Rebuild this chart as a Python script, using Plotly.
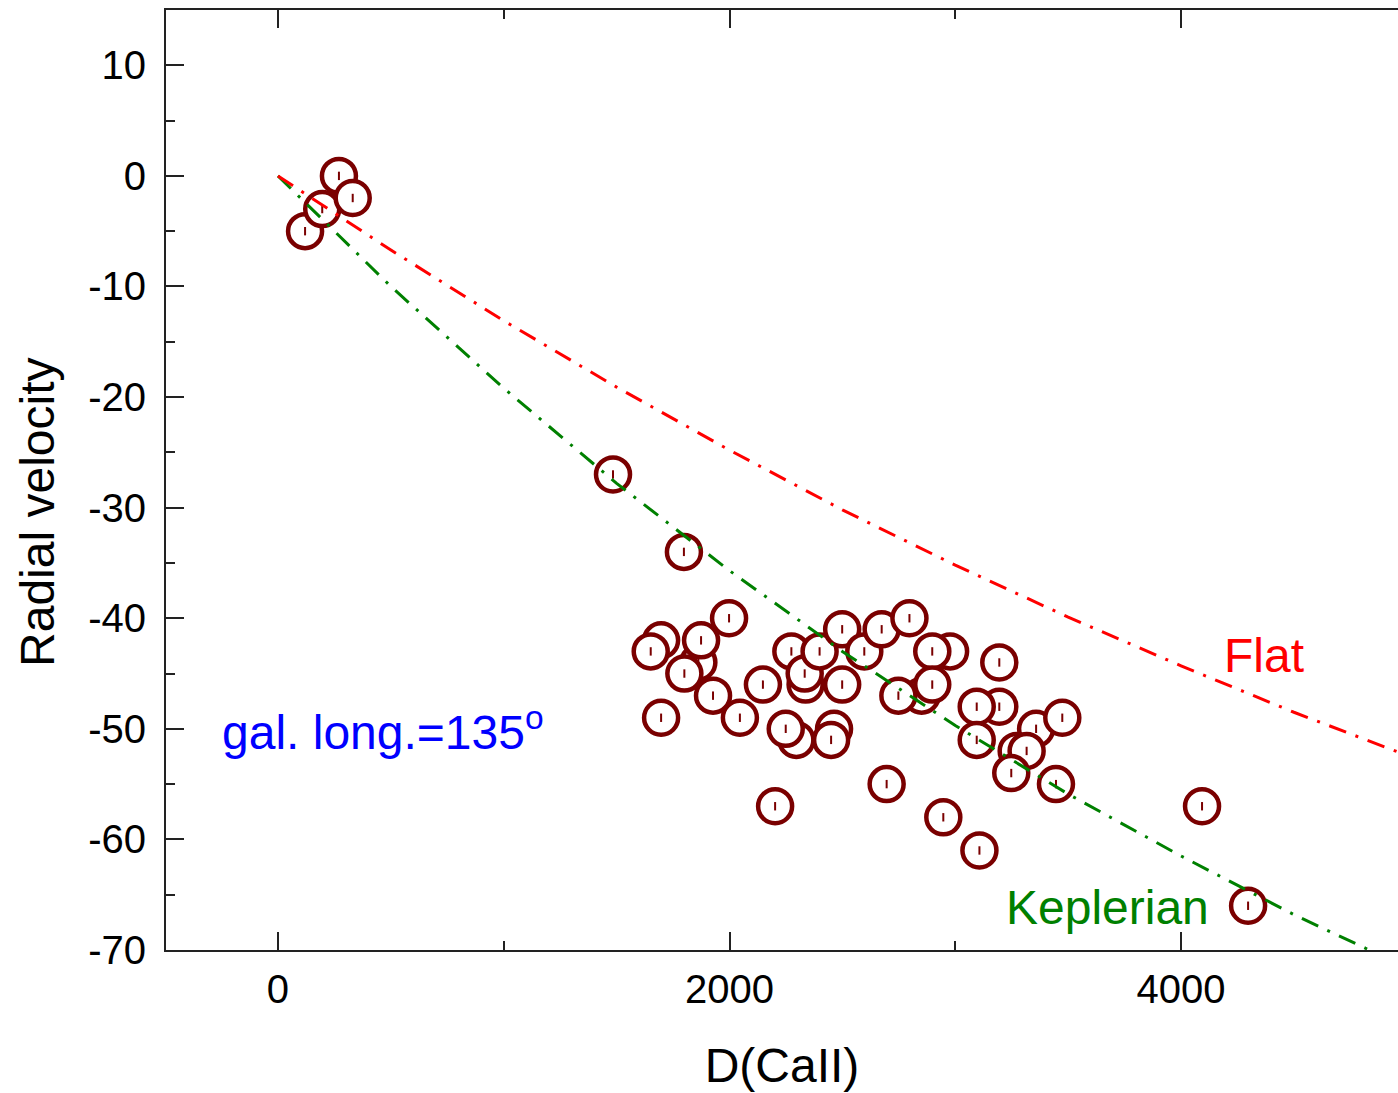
import plotly.graph_objects as go

# Observed data points: distance D(CaII) vs radial velocity
dist = [1697, 120, 196, 270, 331, 1484, 1798, 1651, 1697, 1862, 1800, 1874, 1927, 1998,
        2046, 2148, 2202, 2296, 2249, 2274, 2337, 2333, 2399, 2463, 2450, 2499, 2499,
        2597, 2674, 2797, 2851, 2748, 2977, 2898, 2898, 3195, 3095, 3195, 3095, 3358,
        3474, 3272, 3316, 3248, 3446, 2696, 2947, 3107, 4093, 4297]
vrad = [-42, -5, -3, 0, -2, -27, -34, -43, -49, -44, -45, -42, -47, -40,
        -49, -46, -57, -51, -50, -43, -46, -45, -43, -50, -51, -41, -46,
        -43, -41, -40, -47, -47, -43, -43, -46, -48, -48, -44, -51, -50,
        -49, -52, -52, -54, -55, -55, -58, -61, -57, -66]

# Model curves
curve_x = [0, 500, 1000, 1500, 2000, 2500, 3000, 3500, 4000, 4500, 5000]
flat_y = [0, -6.7, -13.1, -19.1, -24.8, -30.2, -35.2, -39.9, -44.3, -48.5, -52.4]
kep_y = [0, -10.0, -19.2, -27.8, -35.7, -43.0, -49.7, -55.9, -61.5, -66.8, -71.6]

x_ticks = [0, 2000, 4000]
y_ticks = [-70, -60, -50, -40, -30, -20, -10, 0, 10]

MARK = "#7a0000"
FONT = "Liberation Sans, Arial, sans-serif"

fig = go.Figure()

for xv, yv in zip(dist, vrad):
    fig.add_trace(go.Scatter(
        x=[xv], y=[yv], mode="markers", showlegend=False, hoverinfo="skip",
        marker=dict(symbol="circle", size=34, color="white",
                    line=dict(color=MARK, width=4.5))))
    fig.add_trace(go.Scatter(
        x=[xv], y=[yv], mode="markers", showlegend=False, hoverinfo="skip",
        marker=dict(symbol="line-ns", size=6, color=MARK,
                    line=dict(color=MARK, width=2))))

fig.add_trace(go.Scatter(x=curve_x, y=kep_y, mode="lines", showlegend=False,
                         line=dict(color="#008000", width=3, dash="18px,10px,3px,10px")))
fig.add_trace(go.Scatter(x=curve_x, y=flat_y, mode="lines", showlegend=False,
                         line=dict(color="#ff0000", width=3, dash="18px,10px,3px,10px")))

fig.add_annotation(x=-257, y=-50.0, xref="x", yref="y", xanchor="left", yanchor="middle",
                   text="gal. long.=135<sup>o</sup>", showarrow=False,
                   font=dict(family=FONT, size=48, color="#0000ff"))
fig.add_annotation(x=4368, y=-43.4, xref="x", yref="y", xanchor="center", yanchor="middle",
                   text="Flat", showarrow=False,
                   font=dict(family=FONT, size=48, color="#ff0000"))
fig.add_annotation(x=3675, y=-66.2, xref="x", yref="y", xanchor="center", yanchor="middle",
                   text="Keplerian", showarrow=False,
                   font=dict(family=FONT, size=48, color="#008000"))
# y-axis title placed as in the reference (slightly below centre)
fig.add_annotation(x=-0.1039, y=0.466, xref="paper", yref="paper",
                   xanchor="center", yanchor="middle", textangle=-90,
                   text="Radial velocity", showarrow=False,
                   font=dict(family=FONT, size=48, color="black"))

fig.update_xaxes(
    range=[-496, 4961], tickvals=x_ticks, ticktext=[str(v) for v in x_ticks],
    ticks="inside", ticklen=18, tickwidth=2, tickcolor="#222",
    minor=dict(ticks="inside", ticklen=9, dtick=1000, tick0=0, tickwidth=2, tickcolor="#222"),
    showline=True, linecolor="#222", linewidth=2, mirror="ticks",
    showgrid=False, zeroline=False, ticklabelstandoff=3,
    tickfont=dict(family=FONT, size=40, color="black"),
    title=dict(text="D(CaII)", font=dict(family=FONT, size=48, color="black"), standoff=38))
fig.update_yaxes(
    range=[-70, 15], tickvals=y_ticks, ticktext=[str(v) for v in y_ticks],
    ticks="inside", ticklen=18, tickwidth=2, tickcolor="#222",
    minor=dict(ticks="inside", ticklen=9, dtick=5, tick0=0, tickwidth=2, tickcolor="#222"),
    showline=True, linecolor="#222", linewidth=2, mirror=False,
    showgrid=False, zeroline=False, ticklabelstandoff=10,
    tickfont=dict(family=FONT, size=40, color="black"))

fig.update_layout(
    width=1398, height=1093,
    margin=dict(l=166, r=0, t=10, b=143),
    paper_bgcolor="white", plot_bgcolor="white",
    font=dict(family=FONT),
)

fig.write_html("out.html")
